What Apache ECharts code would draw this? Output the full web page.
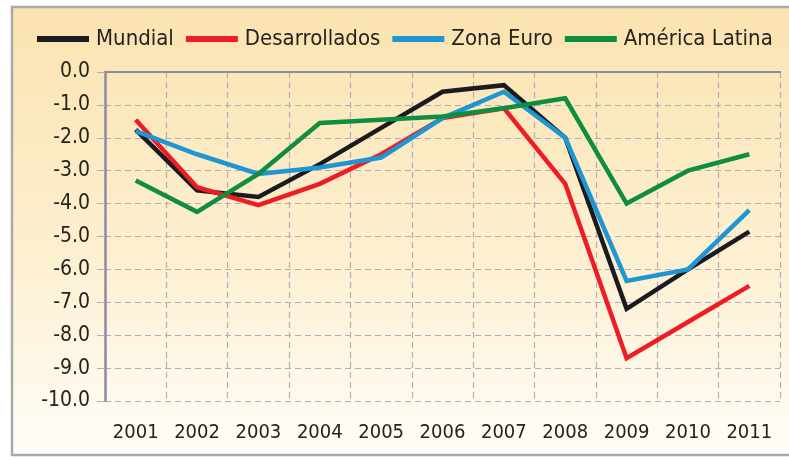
<!DOCTYPE html>
<html><head><meta charset="utf-8">
<script src="https://cdn.jsdelivr.net/npm/echarts@6/dist/echarts.min.js"></script>
<style>html,body{margin:0;padding:0;background:#fff}#c{width:789px;height:460px}</style>
</head><body><div id="c"></div>
<script>
const years = ['2001','2002','2003','2004','2005','2006','2007','2008','2009','2010','2011'];
const mundial = [-1.75, -3.6, -3.8, -2.8, -1.7, -0.6, -0.4, -2.0, -7.2, -6.0, -4.85];
const desarrollados = [-1.45, -3.5, -4.05, -3.4, -2.5, -1.4, -1.1, -3.4, -8.7, -7.6, -6.5];
const zonaEuro = [-1.8, -2.5, -3.1, -2.9, -2.6, -1.4, -0.6, -2.0, -6.35, -6.0, -4.2];
const americaLatina = [-3.3, -4.25, -3.1, -1.55, -1.45, -1.35, -1.1, -0.8, -4.0, -3.0, -2.5];
const names = ['Mundial','Desarrollados','Zona Euro','América Latina'];
const colors = ['#1b1a1f','#ee1c25','#1d96d3','#0e8e3e'];
const FONT = '"Liberation Sans Narrow","DejaVu Sans Condensed","Roboto",sans-serif';

const chart = echarts.init(document.getElementById('c'), null, {renderer:'canvas'});
const mk = (name, data, color) => ({
  name, type:'line', data, symbol:'none', smooth:false,
  lineStyle:{color, width:4.5, join:'miter'}, itemStyle:{color}
});
chart.setOption({
  animation:false,
  graphic:[{
    type:'rect', z:-10, silent:true,
    shape:{x:12, y:7, width:800, height:448},
    style:{
      fill:new echarts.graphic.LinearGradient(0,0,0,1,[
        {offset:0,color:'#fbe3b0'},{offset:0.55,color:'#fdefd0'},{offset:1,color:'#fffdf8'}]),
      stroke:'#a9a9a9', lineWidth:2.5
    }
  }],
  legend:{
    top:23, left:32, itemGap:12, itemWidth:52, itemHeight:6, icon:'rect',
    textStyle:{fontFamily:FONT, fontSize:22, color:'#26231f', padding:[0,0,0,2]},
    data:names
  },
  grid:{left:105, right:9, top:72, bottom:59, containLabel:false},
  xAxis:[{
    type:'category', data:years, boundaryGap:true,
    axisLine:{show:false}, axisTick:{show:false},
    axisLabel:{fontFamily:FONT, fontSize:20, color:'#26231f', margin:22},
    splitLine:{show:true, lineStyle:{color:'#b4adb8', type:[6,4], width:1.2}}
  },{
    type:'category', data:years, position:'top', boundaryGap:true,
    axisLine:{show:true, lineStyle:{color:'#8e8aa6', width:2}},
    axisTick:{show:false}, axisLabel:{show:false}, splitLine:{show:false}
  }],
  yAxis:{
    type:'value', min:-10, max:0, interval:1,
    axisLine:{show:true, lineStyle:{color:'#8e8aa6', width:2.5}},
    axisTick:{show:true, length:8, inside:false, lineStyle:{color:'#b4adb8'}},
    axisLabel:{fontFamily:FONT, fontSize:21, color:'#26231f', margin:15, formatter:v=>v.toFixed(1)},
    splitLine:{show:true, lineStyle:{color:'#b4adb8', type:[6,4], width:1.2}}
  },
  series:[
    mk(names[0], mundial, colors[0]),
    mk(names[1], desarrollados, colors[1]),
    mk(names[2], zonaEuro, colors[2]),
    mk(names[3], americaLatina, colors[3])
  ]
});
</script></body></html>
